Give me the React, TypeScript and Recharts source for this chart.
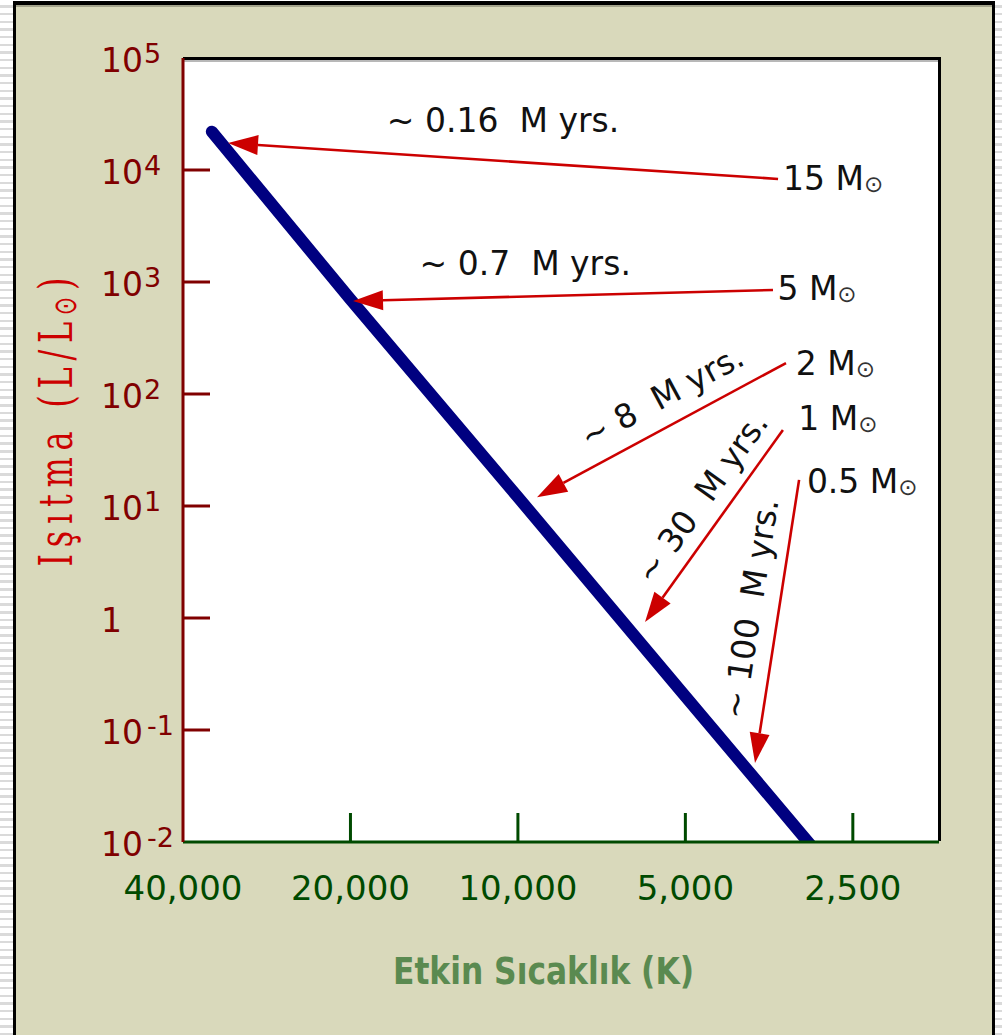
import React from 'react';
import { LineChart, Line, XAxis, YAxis, ReferenceLine, CartesianGrid } from 'recharts';

const CHART_W = 1002;
const CHART_H = 1035;

// Effective temperature axis (K), log scale running from hot to cool
const temperatureTicks = [40000, 20000, 10000, 5000, 2500];
const temperatureTickLabels = ['40,000', '20,000', '10,000', '5,000', '2,500'];

// Luminosity axis (L/L_sun), one tick per decade
const luminosityTicks = [0.01, 0.1, 1, 10, 100, 1000, 10000, 100000];
const luminosityExponents = ['-2', '-1', '0', '1', '2', '3', '4', '5'];

// Zero-age main sequence
const zamsTemperature = [35500, 20000, 10000, 5000, 2950];
const zamsLuminosity = [22000, 700, 12, 0.2, 0.0089];

// Pre-main-sequence contraction tracks (start -> arrival on the main sequence)
const trackMass = ['15', '5', '2', '1', '0.5'];
const trackTime = ['0.16', '0.7', '8', '30', '100'];
const trackStartTemperature = [3407, 3479, 3297, 3339, 3123];
const trackStartLuminosity = [8320, 849, 189, 47.7, 17.1];
const trackEndTemperature = [33200, 19790, 9240, 5909, 3748];
const trackEndLuminosity = [17400, 676, 12.0, 0.92, 0.0507];

// Placement of the duration label along each track and of the mass label at its tail
const timeLabelLayout = [
  { along: 0.5, lift: 29, upright: true },
  { along: 0.41, lift: 21.5, upright: true },
  { along: 0.558, lift: 18, upright: false },
  { along: 0.567, lift: 15, upright: false },
  { along: 0.53, lift: 17, upright: false },
];
const massLabelOffset = [
  [5, 11],
  [4.4, 10],
  [9.7, 12],
  [15.4, 0],
  [7.8, 13],
];

const BEIGE = '#d9d9bb';
const MAROON = '#800000';
const AXIS_GREEN = '#004a00';
const TITLE_GREEN = '#5a8a50';
const TITLE_RED = '#cc0000';
const ARROW_RED = '#cc0000';
const NAVY = '#000080';
const STRIPES =
  'repeating-linear-gradient(180deg, #ffffff 0px, #ffffff 5.2px, #dadada 5.2px, #dadada 7.67px)';

const HEAD_LEN = 30;
const HEAD_HALF = 10;

const renderTempTick = (props: any) => {
  const { x, y, payload } = props;
  const i = temperatureTicks.indexOf(payload.value);
  return (
    <g>
      {i > 0 && <line x1={x} x2={x} y1={y} y2={y - 29} stroke={AXIS_GREEN} strokeWidth={3} />}
      <text
        x={x}
        y={y + 58}
        textAnchor="middle"
        fill={AXIS_GREEN}
        fontFamily="DejaVu Sans"
        fontSize={34}
      >
        {temperatureTickLabels[i]}
      </text>
    </g>
  );
};

const renderLumTick = (props: any) => {
  const { x, y, payload } = props;
  const i = luminosityTicks.indexOf(payload.value);
  const exp = luminosityExponents[i];
  const last = luminosityTicks.length - 1;
  return (
    <g>
      {i > 0 && i < last && (
        <line x1={x} x2={x + 27} y1={y} y2={y} stroke={MAROON} strokeWidth={3} />
      )}
      <text x={x - 82} y={y + 14} fill={MAROON} fontFamily="DejaVu Sans" fontSize={33}>
        {exp === '0' ? (
          '1'
        ) : (
          <>
            10
            <tspan dx={exp.startsWith('-') ? 4 : 1} dy={-9} fontSize={27}>
              {exp}
            </tspan>
          </>
        )}
      </text>
    </g>
  );
};

const renderXTitle = (props: any) => {
  const vb = props.viewBox || { x: 183, y: 842, width: 756, height: 60 };
  const cx = vb.x + vb.width / 2 - 17.5;
  const baseline = vb.y + 142;
  return (
    <text
      x={cx}
      y={baseline}
      textAnchor="middle"
      fill={TITLE_GREEN}
      fontFamily="DejaVu Sans"
      fontWeight="bold"
      fontSize={37}
      textLength={301}
      lengthAdjust="spacingAndGlyphs"
    >
      Etkin Sıcaklık (K)
    </text>
  );
};

const renderYTitle = (props: any) => {
  const vb = props.viewBox || { x: 93, y: 58, width: 90, height: 784 };
  const cx = vb.x - 21;
  const cy = vb.y + vb.height / 2 - 28;
  return (
    <text
      transform={`translate(${cx},${cy}) rotate(-90) scale(1,1.45)`}
      textAnchor="middle"
      fill={TITLE_RED}
      fontFamily="DejaVu Serif"
      fontSize={32}
      textLength={289}
      style={{ whiteSpace: 'pre' }}
    >
      Işıtma (L/L
      <tspan fontFamily="DejaVu Sans" fontSize={22} dy={3}>
        ⊙
      </tspan>
      <tspan dy={-3}>)</tspan>
    </text>
  );
};

// Track arrow: red shaft, filled head at the main sequence, duration and mass labels
const makeTrackShape = (i: number) => (p: any) => {
  const { x1, y1, x2, y2 } = p;
  const dx = x2 - x1;
  const dy = y2 - y1;
  const len = Math.hypot(dx, dy);
  const ux = dx / len;
  const uy = dy / len;
  const bx = x2 - ux * HEAD_LEN;
  const by = y2 - uy * HEAD_LEN;
  const nx = -uy;
  const ny = ux;
  const head = `${x2},${y2} ${bx + nx * HEAD_HALF},${by + ny * HEAD_HALF} ${bx - nx * HEAD_HALF},${
    by - ny * HEAD_HALF
  }`;

  const lay = timeLabelLayout[i];
  const px = x2 - dx * lay.along;
  const py = y2 - dy * lay.along;
  // reading direction runs from the tip back toward the tail
  const rx = -ux;
  const ry = -uy;
  const upX = ry;
  const upY = -rx;
  let lx: number;
  let ly: number;
  let angle = 0;
  if (lay.upright) {
    lx = px;
    ly = py - lay.lift;
  } else {
    lx = px + upX * lay.lift;
    ly = py + upY * lay.lift;
    angle = (Math.atan2(ry, rx) * 180) / Math.PI;
  }
  const [mdx, mdy] = massLabelOffset[i];

  return (
    <g>
      <line x1={x1} y1={y1} x2={bx} y2={by} stroke={ARROW_RED} strokeWidth={2.6} />
      <polygon points={head} fill={ARROW_RED} />
      <text
        transform={`translate(${lx},${ly}) rotate(${angle})`}
        textAnchor="middle"
        fill="#111"
        fontFamily="DejaVu Sans"
        fontSize={33}
        style={{ whiteSpace: 'pre' }}
      >
        {`~ ${trackTime[i]}  M yrs.`}
      </text>
      <text x={x1 + mdx} y={y1 + mdy} fill="#111" fontFamily="DejaVu Sans" fontSize={33}>
        {`${trackMass[i]} M`}
        <tspan fontSize={23} dy={2} fill="#333">
          ⊙
        </tspan>
      </text>
    </g>
  );
};

const topBorderShape = (p: any) => {
  const { x1, y1, x2 } = p;
  return (
    <g>
      <line x1={x1} x2={x2 + 2} y1={y1 + 0.5} y2={y1 + 0.5} stroke="#000" strokeWidth={3} />
      <line x1={x1 + 1} x2={x2} y1={y1 + 3} y2={y1 + 3} stroke="#b8b8b8" strokeWidth={2} />
    </g>
  );
};

const rightBorderShape = (p: any) => {
  const { x1, y1, y2 } = p;
  return <line x1={x1 + 0.5} x2={x1 + 0.5} y1={y1 - 1} y2={y2} stroke="#000" strokeWidth={3} />;
};

const Frame = () => (
  <>
    <div
      style={{ position: 'absolute', left: 0, top: 0, width: 13, height: CHART_H, background: STRIPES }}
    />
    <div
      style={{ position: 'absolute', left: 995, top: 0, width: 7, height: CHART_H, background: STRIPES }}
    />
    <div
      style={{
        position: 'absolute',
        left: 13,
        top: 1,
        width: 982,
        height: CHART_H - 1,
        boxSizing: 'border-box',
        borderLeft: '3px solid #000',
        borderRight: '3px solid #000',
        borderTop: '4px solid #000',
        background: BEIGE,
      }}
    />
    <div
      style={{ position: 'absolute', left: 16, top: 5, width: 976, height: 2, background: '#a3a38c' }}
    />
  </>
);

export default function App() {
  const zams = zamsTemperature.map((t, i) => ({ T: t, L: zamsLuminosity[i] }));
  return (
    <div
      style={{
        position: 'absolute',
        left: 0,
        top: 0,
        width: CHART_W,
        height: CHART_H,
        overflow: 'hidden',
        background: '#fff',
      }}
    >
      <Frame />
      <div style={{ position: 'absolute', left: 0, top: 0 }}>
        <LineChart
          width={CHART_W}
          height={CHART_H}
          margin={{ top: 58, right: 63, bottom: 133, left: 93 }}
        >
          <CartesianGrid fill="#ffffff" horizontal={false} vertical={false} stroke="none" />
          <XAxis
            dataKey="T"
            type="number"
            scale="log"
            domain={[1750, 40000]}
            reversed
            allowDataOverflow
            ticks={temperatureTicks}
            interval={0}
            height={60}
            tickSize={0}
            tickMargin={0}
            tickLine={false}
            axisLine={{ stroke: AXIS_GREEN, strokeWidth: 3 }}
            tick={renderTempTick}
            label={{ content: renderXTitle }}
          />
          <YAxis
            type="number"
            scale="log"
            domain={[0.01, 100000]}
            allowDataOverflow
            ticks={luminosityTicks}
            interval={0}
            width={90}
            tickSize={0}
            tickMargin={0}
            tickLine={false}
            axisLine={{ stroke: MAROON, strokeWidth: 3 }}
            tick={renderLumTick}
            label={{ content: renderYTitle }}
          />
          <ReferenceLine y={100000} shape={topBorderShape} ifOverflow="visible" />
          <ReferenceLine x={1750} shape={rightBorderShape} ifOverflow="visible" />
          <Line
            data={zams}
            dataKey="L"
            stroke={NAVY}
            strokeWidth={12}
            strokeLinecap="round"
            dot={false}
            activeDot={false}
            isAnimationActive={false}
          />
          {trackMass.map((m, i) => (
            <ReferenceLine
              key={m}
              segment={[
                { x: trackStartTemperature[i], y: trackStartLuminosity[i] },
                { x: trackEndTemperature[i], y: trackEndLuminosity[i] },
              ]}
              shape={makeTrackShape(i)}
              ifOverflow="visible"
            />
          ))}
        </LineChart>
      </div>
    </div>
  );
}
